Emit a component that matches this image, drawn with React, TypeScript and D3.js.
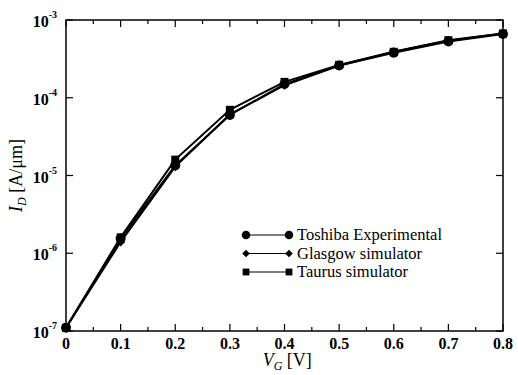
import * as d3 from "d3";

const vg = [0, 0.1, 0.2, 0.3, 0.4, 0.5, 0.6, 0.7, 0.8];
const toshiba = [1.1e-7, 1.55e-6, 1.35e-5, 6.0e-5, 1.5e-4, 2.6e-4, 3.8e-4, 5.3e-4, 6.6e-4];
const glasgow = [1.1e-7, 1.4e-6, 1.3e-5, 6.1e-5, 1.45e-4, 2.6e-4, 3.9e-4, 5.4e-4, 6.7e-4];
const taurus = [1.1e-7, 1.6e-6, 1.6e-5, 7.0e-5, 1.6e-4, 2.65e-4, 3.9e-4, 5.5e-4, 6.7e-4];
const xTicks = [0, 0.1, 0.2, 0.3, 0.4, 0.5, 0.6, 0.7, 0.8];
const yExps = [-7, -6, -5, -4, -3];
const legendNames = ["Toshiba Experimental", "Glasgow simulator", "Taurus simulator"];

const W = 518;
const H = 375;
const M = { left: 66, right: 15, top: 20, bottom: 44 };
const FONT = "'Liberation Serif', 'DejaVu Serif', serif";

function Marker({ kind, x, y, s = 1 }: { kind: string; x: number; y: number; s?: number }) {
  if (kind === "circle") return <circle cx={x} cy={y} r={5 * s} fill="#000" />;
  if (kind === "square") return <rect x={x - 4 * s} y={y - 4 * s} width={8 * s} height={8 * s} fill="#000" />;
  const r = 4.5 * s;
  return <path d={`M${x},${y - r}L${x + r},${y}L${x},${y + r}L${x - r},${y}Z`} fill="#000" />;
}

export default function App() {
  const x = d3.scaleLinear().domain([0, 0.8]).range([M.left, W - M.right]);
  const y = d3.scaleLog().domain([1e-7, 1e-3]).range([H - M.bottom, M.top]);
  const [x0, x1] = x.range();
  const [y0, y1] = y.range();

  const series = [
    { name: legendNames[0], vals: toshiba, kind: "circle" },
    { name: legendNames[1], vals: glasgow, kind: "diamond" },
    { name: legendNames[2], vals: taurus, kind: "square" },
  ];
  const line = d3
    .line<[number, number]>()
    .x((d) => x(d[0]))
    .y((d) => y(d[1]));

  const minorX = d3.range(0, 0.8001, 0.05);

  return (
    <svg width={W} height={H} style={{ position: "absolute", left: 0, top: 0, background: "#fff" }} fontFamily={FONT}>
      {/* frame */}
      <rect x={x0} y={y1} width={x1 - x0} height={y0 - y1} fill="none" stroke="#000" strokeWidth={1.5} />
      {/* x ticks, bottom and top */}
      {minorX.map((t, i) => {
        const len = i % 2 === 0 ? 7 : 4;
        return (
          <g key={"xt" + i}>
            <line x1={x(t)} x2={x(t)} y1={y0} y2={y0 - len} stroke="#000" strokeWidth={1.2} />
            <line x1={x(t)} x2={x(t)} y1={y1} y2={y1 + len} stroke="#000" strokeWidth={1.2} />
          </g>
        );
      })}
      {/* y ticks, left and right */}
      {yExps.map((e) => (
        <g key={"yt" + e}>
          <line x1={x0} x2={x0 + 7} y1={y(10 ** e)} y2={y(10 ** e)} stroke="#000" strokeWidth={1.2} />
          <line x1={x1} x2={x1 - 7} y1={y(10 ** e)} y2={y(10 ** e)} stroke="#000" strokeWidth={1.2} />
        </g>
      ))}
      {xTicks.map((t) => (
        <text key={"xl" + t} x={x(t)} y={y0 + 18} textAnchor="middle" fontSize={16} fontWeight="bold">
          {t === 0 ? "0" : d3.format(".1f")(t)}
        </text>
      ))}
      {yExps.map((e) => (
        <text key={"yl" + e} x={x0 - 9} y={y(10 ** e) + 7} textAnchor="end" fontSize={16} fontWeight="bold">
          10
          <tspan dy={-9} fontSize={10}>
            {e}
          </tspan>
        </text>
      ))}
      {/* axis titles */}
      <text x={x(0.405)} y={H - 9} textAnchor="middle" fontSize={18}>
        <tspan fontStyle="italic">V</tspan>
        <tspan fontStyle="italic" fontSize={12} dy={4}>G</tspan>
        <tspan dy={-4}> [V]</tspan>
      </text>
      <text transform={`translate(22,${(y0 + y1) / 2}) rotate(-90)`} textAnchor="middle" fontSize={18}>
        <tspan fontStyle="italic">I</tspan>
        <tspan fontStyle="italic" fontSize={12} dy={4}>D</tspan>
        <tspan dy={-4}> [A/μm]</tspan>
      </text>
      {/* series */}
      {series.map((s) => (
        <g key={s.name}>
          <path
            d={line(vg.map((v, i) => [v, s.vals[i]] as [number, number])) ?? ""}
            fill="none"
            stroke="#000"
            strokeWidth={2}
          />
          {vg.map((v, i) => (
            <Marker key={i} kind={s.kind} x={x(v)} y={y(s.vals[i])} />
          ))}
        </g>
      ))}
      {/* legend */}
      {series.map((s, i) => {
        const ly = 235 + i * 18.5;
        return (
          <g key={"lg" + i}>
            <line x1={246} x2={289} y1={ly} y2={ly} stroke="#000" strokeWidth={1.2} />
            <Marker kind={s.kind} x={246} y={ly} s={0.85} />
            <Marker kind={s.kind} x={289} y={ly} s={0.85} />
            <text x={297} y={ly + 5} fontSize={16.5}>
              {s.name}
            </text>
          </g>
        );
      })}
    </svg>
  );
}
